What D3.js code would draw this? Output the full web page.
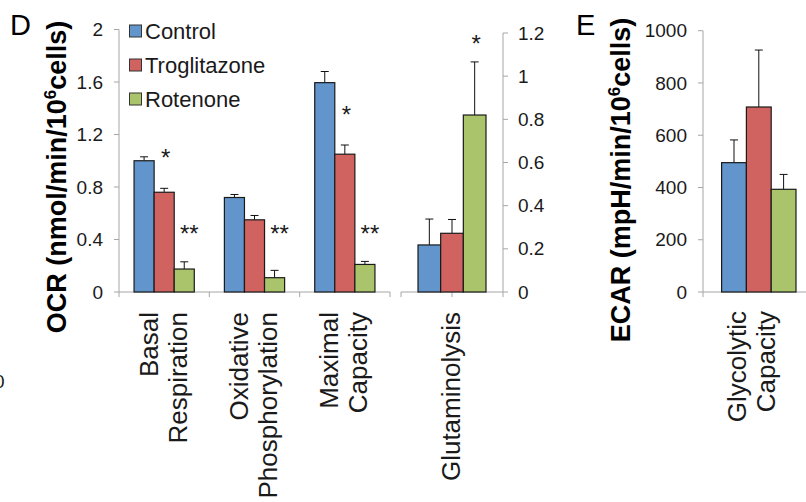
<!DOCTYPE html>
<html>
<head>
<meta charset="utf-8">
<script src="https://cdn.jsdelivr.net/npm/d3@7/dist/d3.min.js"></script>
<style>
html,body{margin:0;padding:0;background:#fff;}
svg{display:block;font-family:"Liberation Sans",Arial,sans-serif;}
</style>
</head>
<body>
<svg id="chart" width="806" height="502"></svg>
<script>
// ---------- data ----------
const series = ["Control", "Troglitazone", "Rotenone"];
const seriesColors = ["#6195cb", "#d0635f", "#a9c46b"];

const ocrCategories = ["Basal Respiration", "Oxidative Phosphorylation", "Maximal Capacity"];
const ocrCategoryLines = [["Basal", "Respiration"], ["Oxidative", "Phosphorylation"], ["Maximal", "Capacity"]];
const ocrControl = [1.00, 0.72, 1.595];
const ocrTroglitazone = [0.76, 0.55, 1.05];
const ocrRotenone = [0.175, 0.109, 0.21];
const ocrControlErr = [0.03, 0.023, 0.085];
const ocrTroglitazoneErr = [0.03, 0.033, 0.07];
const ocrRotenoneErr = [0.055, 0.056, 0.023];
const ocrSignif = [["", "*", "**"], ["", "", "**"], ["", "*", "**"]];
const ocrSignifAt = [[0, 1.057, 0.479], [0, 0, 0.479], [0, 1.384, 0.479]];
const ocrTicks = [0, 0.4, 0.8, 1.2, 1.6, 2];
const ocrTickLabels = ["0", "0.4", "0.8", "1.2", "1.6", "2"];

const glutCategories = ["Glutaminolysis"];
const glutValues = [0.218, 0.272, 0.82];
const glutErr = [0.12, 0.064, 0.246];
const glutSignif = ["", "", "*"];
const glutSignifAt = [0, 0, 1.171];
const glutTicks = [0, 0.2, 0.4, 0.6, 0.8, 1, 1.2];
const glutTickLabels = ["0", "0.2", "0.4", "0.6", "0.8", "1", "1.2"];

const ecarCategories = ["Glycolytic Capacity"];
const ecarCategoryLines = [["Glycolytic", "Capacity"]];
const ecarValues = [495, 708, 393];
const ecarErr = [87, 218, 57];
const ecarTicks = [0, 200, 400, 600, 800, 1000];
const ecarTickLabels = ["0", "200", "400", "600", "800", "1000"];

// ---------- setup ----------
const svg = d3.select("#chart");
const AXIS = "#a6a6a6";
const TXT = "#1a1a1a";
const baseY = 292;

function drawBars(g, xBand, yScale, cat, vals, errs) {
  const bw = xBand.bandwidth();
  const sub = d3.scaleBand().domain(series).range([xBand(cat) + bw / 6, xBand(cat) + bw * 5 / 6]);
  series.forEach((s, i) => {
    const x0 = sub(s), w = sub.bandwidth();
    const top = yScale(vals[i]);
    // error bar (upper only)
    const et = yScale(vals[i] + errs[i]);
    const cx = x0 + w / 2;
    g.append("line").attr("x1", cx).attr("x2", cx).attr("y1", top).attr("y2", et)
      .attr("stroke", "#111").attr("stroke-width", 1);
    g.append("line").attr("x1", cx - 4).attr("x2", cx + 4).attr("y1", et).attr("y2", et)
      .attr("stroke", "#111").attr("stroke-width", 1);
    g.append("rect").attr("x", x0).attr("y", top).attr("width", w).attr("height", yScale(0) - top)
      .attr("fill", seriesColors[i]).attr("stroke", "#1a1a1a").attr("stroke-width", 1.2);
  });
  return sub;
}

function drawStars(g, sub, yScale, labels, at) {
  series.forEach((s, i) => {
    if (!labels[i]) return;
    const cx = sub(s) + sub.bandwidth() / 2 + 1.5 + (labels[i].length - 1) * 3.5;
    g.append("text").attr("x", cx).attr("y", yScale(at[i]) + 13)
      .attr("text-anchor", "middle").attr("font-size", 24).attr("fill", TXT).text(labels[i]);
  });
}

function catLabel(g, cx, lines, topY) {
  const n = lines.length;
  lines.forEach((ln, i) => {
    const bx = cx - (n - 1) * 29 / 2 + 8 + i * 29;
    g.append("text").attr("transform", `translate(${bx},${topY}) rotate(-90)`)
      .attr("text-anchor", "end").attr("font-size", 26).attr("fill", TXT).text(ln);
  });
}

function yAxisLeft(g, yScale, x, ticks, labels, top, bottom) {
  g.append("line").attr("x1", x).attr("x2", x).attr("y1", top).attr("y2", bottom)
    .attr("stroke", AXIS).attr("stroke-width", 1);
  ticks.forEach((t, i) => {
    const y = yScale(t);
    g.append("line").attr("x1", x - 5).attr("x2", x).attr("y1", y).attr("y2", y).attr("stroke", AXIS);
    g.append("text").attr("x", x - 16).attr("y", y).attr("dy", "0.35em").attr("text-anchor", "end")
      .attr("font-size", 19).attr("fill", TXT).text(labels[i]);
  });
}

function yTitle(g, x, cy, main, rest) {
  const t = g.append("text").attr("transform", `translate(${x},${cy}) rotate(-90)`)
    .attr("text-anchor", "middle").attr("font-size", 27).attr("font-weight", "bold").attr("fill", "#000");
  t.append("tspan").text(main);
  t.append("tspan").attr("font-size", 17).attr("dy", -10).text("6");
  t.append("tspan").attr("dy", 10).text(rest);
}

// ---------- Panel D: OCR ----------
const gD = svg.append("g");
const yD = d3.scaleLinear().domain([0, 2]).range([baseY, 29.5]);
const xD = d3.scaleBand().domain(ocrCategories).range([119, 390]);

yAxisLeft(gD, yD, 119, ocrTicks, ocrTickLabels, yD(2), baseY + 5);
// category axis
gD.append("line").attr("x1", 119).attr("x2", 390).attr("y1", baseY).attr("y2", baseY).attr("stroke", AXIS);
ocrCategories.forEach(c => {
  const xe = xD(c) + xD.bandwidth();
  gD.append("line").attr("x1", xe).attr("x2", xe).attr("y1", baseY).attr("y2", baseY + 5).attr("stroke", AXIS);
});

ocrCategories.forEach((c, ci) => {
  const vals = [ocrControl[ci], ocrTroglitazone[ci], ocrRotenone[ci]];
  const errs = [ocrControlErr[ci], ocrTroglitazoneErr[ci], ocrRotenoneErr[ci]];
  const sub = drawBars(gD, xD, yD, c, vals, errs);
  drawStars(gD, sub, yD, ocrSignif[ci], ocrSignifAt[ci]);
  catLabel(gD, xD(c) + xD.bandwidth() / 2, ocrCategoryLines[ci], 312);
});

// Glutaminolysis (secondary axis)
const yG = d3.scaleLinear().domain([0, 1.2]).range([baseY, 33]);
const xG = d3.scaleBand().domain(glutCategories).range([401, 503]);
gD.append("line").attr("x1", 401).attr("x2", 503).attr("y1", baseY).attr("y2", baseY).attr("stroke", AXIS);
[xG(glutCategories[0]), xG(glutCategories[0]) + xG.bandwidth() / 2, xG(glutCategories[0]) + xG.bandwidth()].forEach(x => {
  gD.append("line").attr("x1", x).attr("x2", x).attr("y1", baseY).attr("y2", baseY + 5).attr("stroke", AXIS);
});
gD.append("line").attr("x1", 503).attr("x2", 503).attr("y1", yG(1.2)).attr("y2", baseY).attr("stroke", AXIS);
glutTicks.forEach((t, i) => {
  const y = yG(t);
  gD.append("line").attr("x1", 503).attr("x2", 508).attr("y1", y).attr("y2", y).attr("stroke", AXIS);
  gD.append("text").attr("x", 518).attr("y", y).attr("dy", "0.35em").attr("text-anchor", "start")
    .attr("font-size", 19).attr("fill", TXT).text(glutTickLabels[i]);
});
const subG = drawBars(gD, xG, yG, glutCategories[0], glutValues, glutErr);
drawStars(gD, subG, yG, glutSignif, glutSignifAt);
catLabel(gD, xG(glutCategories[0]) + xG.bandwidth() / 2, ["Glutaminolysis"], 312);

// legend
series.forEach((s, i) => {
  const cy = 31 + i * 34;
  gD.append("rect").attr("x", 129.5).attr("y", cy - 6).attr("width", 12).attr("height", 12)
    .attr("fill", seriesColors[i]).attr("stroke", "#333").attr("stroke-width", 1);
  gD.append("text").attr("x", 145).attr("y", cy + 8).attr("font-size", 22).attr("fill", TXT).text(s);
});

yTitle(gD, 66, 177, "OCR (nmol/min/10", "cells)");
gD.append("text").attr("x", 10).attr("y", 35).attr("font-size", 29).attr("fill", "#000").text("D");
gD.append("text").attr("x", -6).attr("y", 388).attr("font-size", 19).attr("fill", TXT).text("0");

// ---------- Panel E: ECAR ----------
const gE = svg.append("g");
const yE = d3.scaleLinear().domain([0, 1000]).range([baseY, 30.7]);
const xE = d3.scaleBand().domain(ecarCategories).range([703, 814.6]);
yAxisLeft(gE, yE, 703, ecarTicks, ecarTickLabels, yE(1000), baseY + 5);
gE.append("line").attr("x1", 703).attr("x2", 806).attr("y1", baseY).attr("y2", baseY).attr("stroke", AXIS);
drawBars(gE, xE, yE, ecarCategories[0], ecarValues, ecarErr);
catLabel(gE, xE(ecarCategories[0]) + xE.bandwidth() / 2 - 6, ecarCategoryLines[0], 311);
yTitle(gE, 630, 180, "ECAR (mpH/min/10", "cells)");
gE.append("text").attr("x", 576).attr("y", 35).attr("font-size", 29).attr("fill", "#000").text("E");
</script>
</body>
</html>
